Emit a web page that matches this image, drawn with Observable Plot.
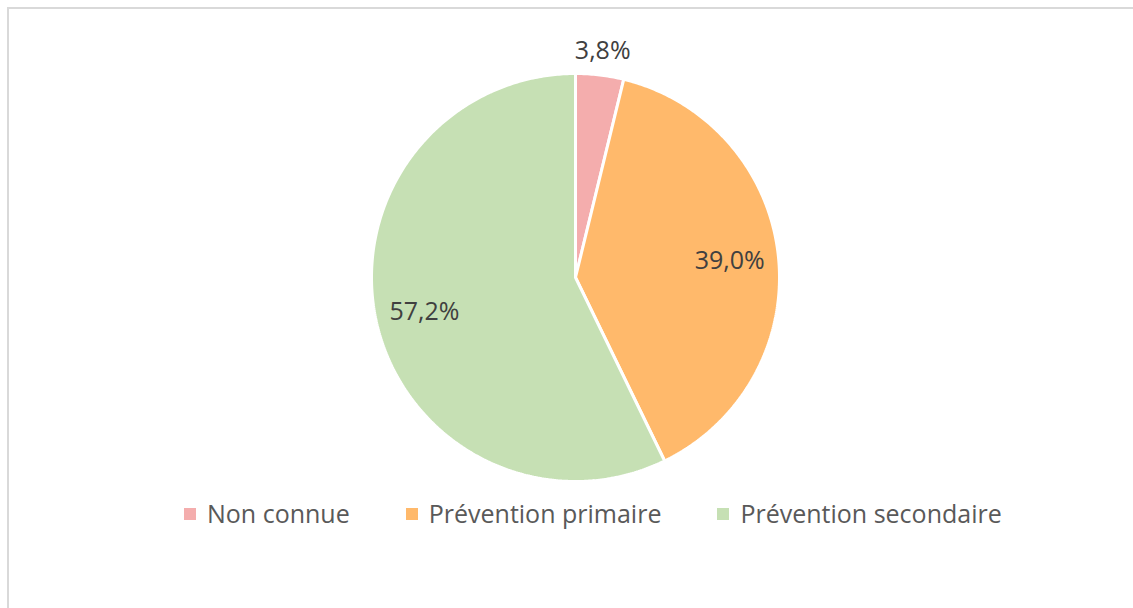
<!DOCTYPE html>
<html>
<head>
<meta charset="utf-8">
<script src="https://cdn.jsdelivr.net/npm/d3@7"></script>
<script src="https://cdn.jsdelivr.net/npm/@observablehq/plot@0.6"></script>
<style>
  html, body { margin: 0; padding: 0; background: #fff; width: 1133px; height: 608px; overflow: hidden; }
  #frame { position: absolute; left: 7px; top: 7px; width: 1140px; height: 620px; border: 2px solid #d9d9d9; box-sizing: border-box; }
  #chart { position: absolute; left: 0; top: 0; }
  #legend { position: absolute; left: 184px; top: 495px; height: 36px; display: flex; align-items: center; font-family: "Open Sans", sans-serif; font-size: 25px; color: #595959; white-space: nowrap; }
  .item { display: flex; align-items: center; margin-right: 56px; }
  .sw { width: 12px; height: 12px; margin-right: 11px; margin-top: 2px; }
</style>
</head>
<body>
<div id="frame"></div>
<div id="chart"></div>
<div id="legend"></div>
<script>
const categories = ["Non connue", "Prévention primaire", "Prévention secondaire"];
const values = [3.8, 39.0, 57.2];
const labels = ["3,8%", "39,0%", "57,2%"];
const colors = ["#F4ADAD", "#FFB96B", "#C6E0B4"];

const total = d3.sum(values);
const slices = [];
const labelPts = [];
let acc = 0;
categories.forEach((name, i) => {
  const a0 = acc / total * 2 * Math.PI;
  acc += values[i];
  const a1 = acc / total * 2 * Math.PI;
  slices.push({name, x: 0, y: 0});
  const n = Math.max(2, Math.ceil((a1 - a0) / 0.01));
  for (let k = 0; k <= n; k++) {
    const a = a0 + (a1 - a0) * k / n;
    slices.push({name, x: Math.sin(a), y: Math.cos(a)});
  }
  const am = (a0 + a1) / 2;
  const rf = values[i] / total < 0.05 ? 1.12 : 0.76;
  labelPts.push({label: labels[i], x: Math.sin(am) * rf, y: Math.cos(am) * rf});
});

const plot = Plot.plot({
  width: 1133,
  height: 500,
  marginLeft: 371,
  marginRight: 354,
  marginTop: 73,
  marginBottom: 19,
  x: {domain: [-1, 1], axis: null},
  y: {domain: [-1, 1], axis: null},
  color: {domain: categories, range: colors},
  style: {background: "transparent", fontFamily: "Open Sans, sans-serif"},
  marks: [
    Plot.line(slices, {x: "x", y: "y", z: "name", fill: "name", stroke: "white", strokeWidth: 3, strokeLinejoin: "miter", curve: "linear-closed"}),
    Plot.text(labelPts, {x: "x", y: "y", text: "label", fill: "#404040", fontSize: 25})
  ]
});
document.getElementById("chart").appendChild(plot);

const legend = document.getElementById("legend");
categories.forEach((c, i) => {
  const it = document.createElement("div");
  it.className = "item";
  const sw = document.createElement("div");
  sw.className = "sw";
  sw.style.background = colors[i];
  const tx = document.createElement("span");
  tx.textContent = c;
  it.appendChild(sw);
  it.appendChild(tx);
  legend.appendChild(it);
});
</script>
</body>
</html>
